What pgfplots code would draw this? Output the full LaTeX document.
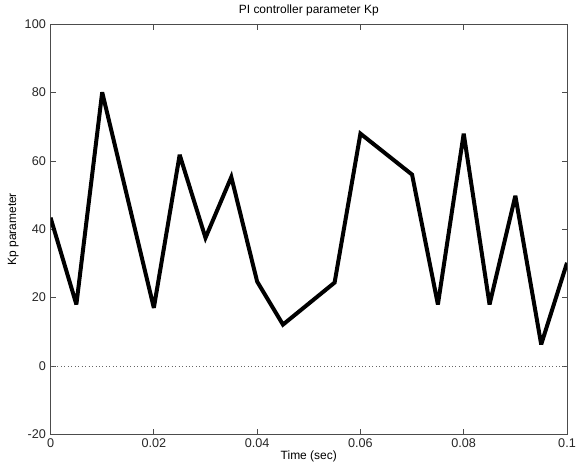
\documentclass[border=0pt]{standalone}
\usepackage{pgfplots}
\pgfplotsset{compat=1.18}
\usepackage{fontspec}
\setmainfont{Liberation Sans}
\begin{document}
\begin{tikzpicture}[x=0.75pt,y=0.75pt]
\begin{axis}[
  scale only axis,
  width=388pt, height=308pt,
  xmin=0, xmax=0.1, ymin=-20, ymax=100,
  xtick={0,0.02,0.04,0.06,0.08,0.1},
  xticklabels={0,0.02,0.04,0.06,0.08,0.1},
  ytick={-20,0,20,40,60,80,100},
  tick align=inside,
  major tick length=4pt,
  axis line style={black!70, line width=0.6pt},
  tick style={black!70, line width=0.6pt},
  /pgf/number format/assume math mode=true,
  ticklabel style={font=\fontsize{9.5}{11}\selectfont, text=black!85},
  title={PI controller parameter Kp},
  title style={font=\fontsize{9}{11}\selectfont, yshift=-3pt},
  xlabel={Time (sec)},
  ylabel={Kp parameter},
  label style={font=\fontsize{9}{11}\selectfont},
  xlabel style={yshift=5pt},
  ylabel style={yshift=-5pt, inner ysep=6pt},
  clip=true,
]
\addplot[black!60, dotted, line width=0.6pt] coordinates {(0,0) (0.1,0)};
\addplot[black, line width=3pt, line join=miter, miter limit=4] coordinates {
(0,43.4) (0.005,18) (0.01,80.1) (0.02,17) (0.025,61.8) (0.03,37.5)
(0.035,55.3) (0.04,24.7) (0.045,12.1) (0.055,24.4) (0.06,68)
(0.07,56) (0.075,18) (0.08,68) (0.085,18) (0.09,49.8) (0.095,6.3) (0.1,30.2)
};
\end{axis}
\pgfresetboundingbox
\path (current axis.outer south west) rectangle ([xshift=7.5pt]current axis.outer north east -| current axis.east);
\end{tikzpicture}
\end{document}
